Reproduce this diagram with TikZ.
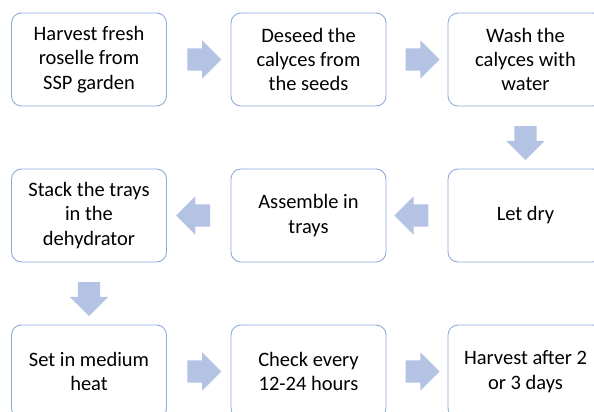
\documentclass[tikz,border=0pt]{standalone}
\usepackage{fontspec}
\setmainfont{Carlito}
\usetikzlibrary{shapes.arrows}
\usetikzlibrary{calc}
\definecolor{boxline}{RGB}{143,170,220}
\definecolor{arrowfill}{RGB}{180,194,228}

\begin{document}
\begin{tikzpicture}[x=1pt,y=-1pt,
  stepbox/.style={draw=boxline,line width=0.9pt,rounded corners=10pt,
    minimum width=155pt,minimum height=93pt,align=center,
    font=\fontsize{20.5}{24.3}\selectfont},
  flow/.style={single arrow,fill=arrowfill,draw=none,inner xsep=0pt,
    inner ysep=11pt,single arrow head extend=8pt,minimum height=34pt}]
\useasboundingbox (0,0) rectangle (594,412);
\clip (0,0) rectangle (594,412);
\node[stepbox] (harvest) at (89,59.5) {Harvest fresh\\roselle from\\SSP garden};
\node[stepbox] (deseed) at (308.5,59.5) {Deseed the\\calyces from\\the seeds};
\node[stepbox] (wash) at (525.5,59.5) {Wash the\\calyces with\\water};
\node[stepbox] (stack) at (89,215.5) {Stack the trays\\in the\\dehydrator};
\node[stepbox] (assemble) at (308.5,215.5) {Assemble in\\trays};
\node[stepbox] (dry) at (525.5,215.5) {Let dry};
\node[stepbox] (heat) at (89,371.5) {Set in medium\\heat};
\node[stepbox] (check) at (308.5,371.5) {Check every\\12-24 hours};
\node[stepbox] (collect) at (525.5,371.5) {Harvest after 2\\or 3 days};

\node[flow] (a1) at ($(harvest.east)!0.5!(deseed.west)$) {};
\node[flow] (a2) at ($(deseed.east)!0.5!(wash.west)$) {};
\node[flow,rotate=-90] (a3) at ($(wash.south)!0.5!(dry.north)$) {};
\node[flow,rotate=180] (a4) at ($(dry.west)!0.5!(assemble.east)$) {};
\node[flow,rotate=180] (a5) at ($(assemble.west)!0.5!(stack.east)$) {};
\node[flow,rotate=-90] (a6) at ($(stack.south)!0.5!(heat.north)$) {};
\node[flow] (a7) at ($(heat.east)!0.5!(check.west)$) {};
\node[flow] (a8) at ($(check.east)!0.5!(collect.west)$) {};
\end{tikzpicture}
\end{document}
